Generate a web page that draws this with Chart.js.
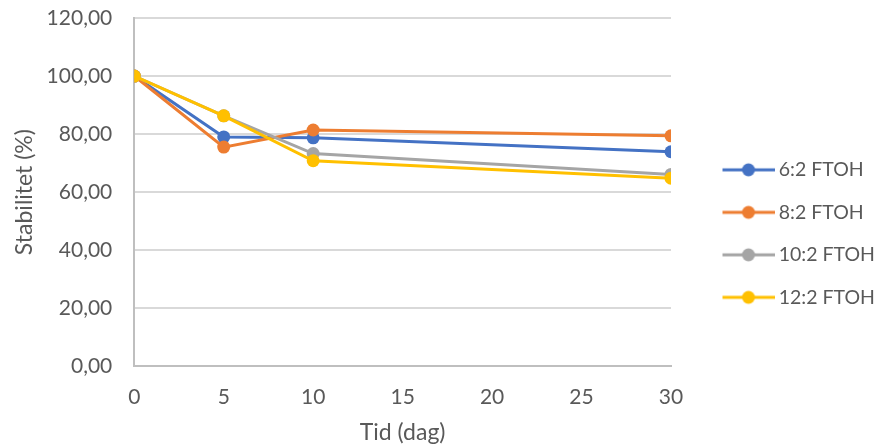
<!DOCTYPE html>
<html>
<head>
<meta charset="utf-8">
<script src="https://cdn.jsdelivr.net/npm/chart.js@4/dist/chart.umd.min.js"></script>
<style>
  html, body { margin: 0; padding: 0; background: #fff; }
  #wrap { width: 879px; height: 446px; }
</style>
</head>
<body>
<div id="wrap"><canvas id="stabChart" width="879" height="446"></canvas></div>
<script>
// time points (days)
const days = [0, 5, 10, 30];

// stability (%) per compound
const ftoh62 = [100, 79.0, 78.7, 73.9];
const ftoh82 = [100, 75.5, 81.4, 79.4];
const ftoh102 = [100, 86.3, 73.3, 66.1];
const ftoh122 = [100, 86.3, 70.8, 64.8];

const seriesNames = ["6:2 FTOH", "8:2 FTOH", "10:2 FTOH", "12:2 FTOH"];
const seriesColors = ["#4472C4", "#ED7D31", "#A5A5A5", "#FFC000"];
const xTicks = [0, 5, 10, 15, 20, 25, 30];
const yTicks = [0, 20, 40, 60, 80, 100, 120];

const fontFam = "Lato, 'Open Sans', sans-serif";
const textGrey = "#595959";

// line + dot marker for the legend (line sits at the right end of the image)
function legendIcon(color) {
  const c = document.createElement("canvas");
  c.width = 86; c.height = 16;
  const g = c.getContext("2d");
  g.strokeStyle = color;
  g.lineWidth = 3;
  g.beginPath();
  g.moveTo(34, 8); g.lineTo(86, 8);
  g.stroke();
  g.fillStyle = color;
  g.beginPath();
  g.arc(60, 8, 6.5, 0, Math.PI * 2);
  g.fill();
  return c;
}

const allData = [ftoh62, ftoh82, ftoh102, ftoh122];
const datasets = allData.map((vals, i) => ({
  label: seriesNames[i],
  data: days.map((d, j) => ({ x: d, y: vals[j] })),
  borderColor: seriesColors[i],
  backgroundColor: seriesColors[i],
  borderWidth: 3,
  pointRadius: 6.5,
  pointHoverRadius: 6.5,
  pointBorderWidth: 0,
  tension: 0,
  order: allData.length - i // later series drawn on top
}));

const ctx = document.getElementById("stabChart").getContext("2d");
new Chart(ctx, {
  type: "line",
  data: { datasets: datasets },
  options: {
    responsive: false,
    animation: false,
    layout: { padding: { top: 18, right: 4, bottom: 0, left: 11 } },
    scales: {
      x: {
        type: "linear",
        min: 0,
        max: 30,
        afterBuildTicks: axis => { axis.ticks = xTicks.map(v => ({ value: v })); },
        // invisible tick marks give the label gap without extra auto padding
        grid: { color: "transparent", tickColor: "transparent", drawTicks: true, tickLength: 18 },
        border: { display: true, color: "#BFBFBF", width: 2 },
        ticks: { color: textGrey, font: { family: fontFam, size: 21 }, padding: 0 },
        title: {
          display: true, text: "Tid (dag)", color: textGrey,
          font: { family: fontFam, size: 23 }, padding: { top: 9, bottom: 0 }
        }
      },
      y: {
        min: 0,
        max: 120,
        afterBuildTicks: axis => { axis.ticks = yTicks.map(v => ({ value: v })); },
        grid: { color: "#D9D9D9", lineWidth: 2, tickColor: "transparent", drawTicks: true, tickLength: 22 },
        border: { display: true, color: "#BFBFBF", width: 2 },
        ticks: {
          color: textGrey, font: { family: fontFam, size: 21 }, padding: 0,
          callback: v => v.toFixed(2).replace(".", ",")
        },
        title: {
          display: true, text: "Stabilitet (%)", color: textGrey,
          font: { family: fontFam, size: 23 }, padding: { top: 0, bottom: 8 }
        }
      }
    },
    plugins: {
      tooltip: { enabled: false },
      legend: {
        position: "right",
        maxWidth: 204,
        title: { display: true, text: " ", font: { size: 1 }, padding: { top: 0, bottom: 2 } },
        labels: {
          usePointStyle: true,
          pointStyleWidth: 75,
          padding: 23,
          color: textGrey,
          font: { family: fontFam, size: 19.5 },
          generateLabels: chart => chart.data.datasets.map((ds, i) => ({
            text: ds.label,
            pointStyle: legendIcon(seriesColors[i]),
            fillStyle: "transparent",
            strokeStyle: "transparent",
            lineWidth: 0,
            fontColor: textGrey,
            hidden: false,
            datasetIndex: i
          }))
        }
      }
    }
  }
});
</script>
</body>
</html>
